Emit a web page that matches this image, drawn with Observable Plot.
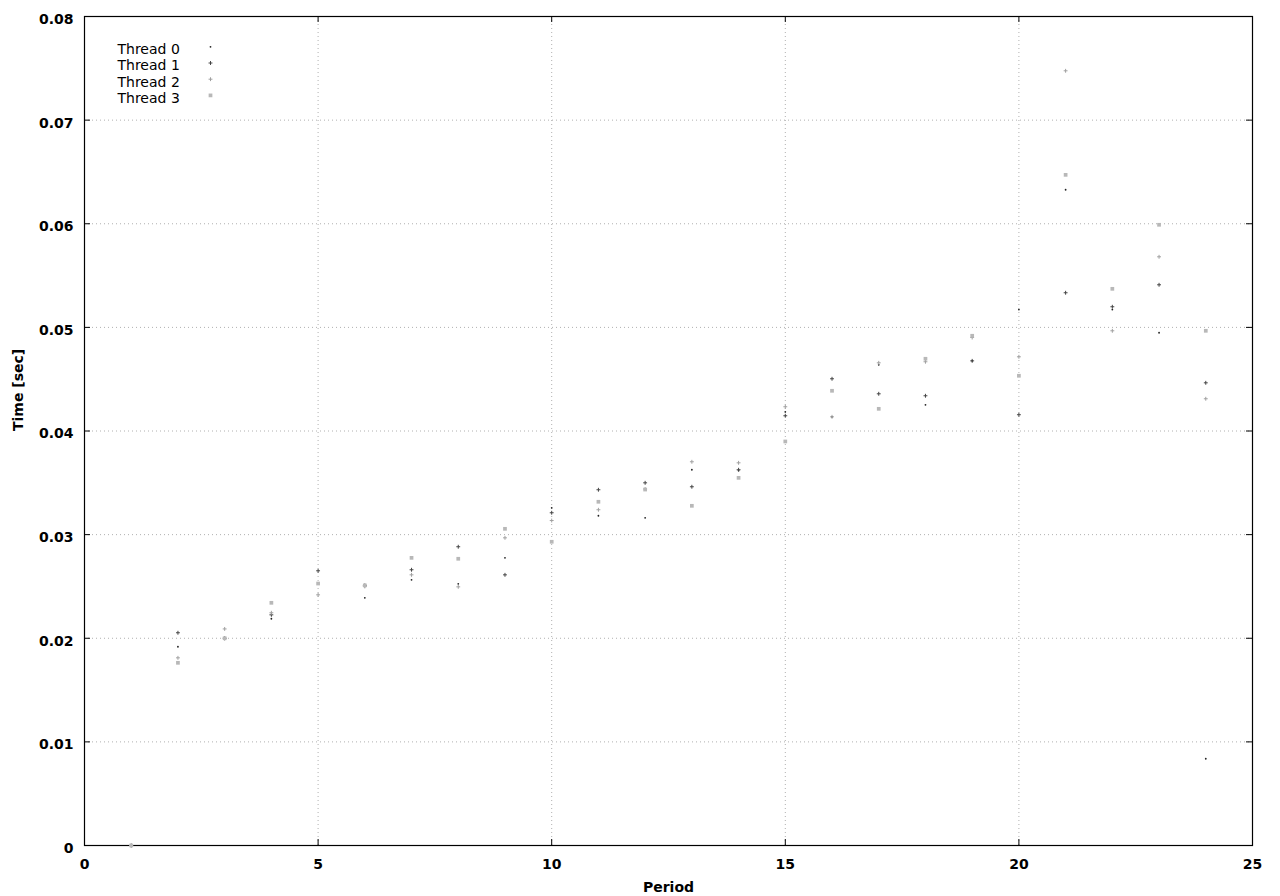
<!DOCTYPE html>
<html>
<head>
<meta charset="utf-8">
<script src="https://cdn.jsdelivr.net/npm/d3@7"></script>
<script src="https://cdn.jsdelivr.net/npm/@observablehq/plot@0.6"></script>
<style>
  html, body { margin: 0; padding: 0; background: #fff; }
  #chart { width: 1280px; height: 896px; }
</style>
</head>
<body>
<div id="chart"></div>
<script>
const periods = [1,2,3,4,5,6,7,8,9,10,11,12,13,14,15,16,17,18,19,20,21,22,23,24];
const thread0 = [0, 0.01918, 0.0199, 0.02188, 0.0253, 0.0239, 0.02564, 0.02525, 0.02776, 0.03259, 0.03182, 0.03162, 0.03626, 0.0362, 0.04185, 0.04137, 0.04639, 0.04253, 0.04677, 0.05172, 0.06328, 0.05172, 0.04948, 0.00837];
const thread1 = [0, 0.02053, 0.0200, 0.02226, 0.02651, 0.0251, 0.02661, 0.02883, 0.02612, 0.03211, 0.03433, 0.035, 0.03462, 0.03626, 0.04147, 0.04504, 0.04359, 0.0434, 0.04677, 0.04157, 0.05334, 0.05199, 0.05411, 0.04465];
const thread2 = [0, 0.01811, 0.0209, 0.02246, 0.02419, 0.025, 0.02612, 0.02496, 0.02969, 0.03136, 0.0324, 0.0344, 0.03703, 0.03693, 0.04234, 0.04137, 0.04658, 0.04668, 0.04902, 0.04716, 0.07476, 0.04967, 0.05681, 0.04311];
const thread3 = [0, 0.01763, 0.0200, 0.02342, 0.02528, 0.0251, 0.02776, 0.02767, 0.03056, 0.02931, 0.03317, 0.03435, 0.03278, 0.03548, 0.03899, 0.04388, 0.04214, 0.04697, 0.04919, 0.04533, 0.06472, 0.05372, 0.0599, 0.04967];
const threadNames = ["Thread 0", "Thread 1", "Thread 2", "Thread 3"];
const xTicks = [0, 5, 10, 15, 20, 25];
const yTicks = [0, 0.01, 0.02, 0.03, 0.04, 0.05, 0.06, 0.07, 0.08];
const yTickLabels = ["0", "0.01", "0.02", "0.03", "0.04", "0.05", "0.06", "0.07", "0.08"];

const series = [thread0, thread1, thread2, thread3];
const table = series.map((vals, i) => periods.map((p, j) => ({period: p, time: vals[j], thread: threadNames[i]})));

const styles = [
  {symbol: "circle", r: 0.9, fill: "#222", stroke: "none", strokeWidth: 0},
  {symbol: "plus", r: 1.35, fill: "none", stroke: "#444", strokeWidth: 1},
  {symbol: "plus", r: 1.35, fill: "none", stroke: "#a0a0a0", strokeWidth: 1},
  {symbol: "square", r: 2.1, fill: "#b8b8b8", stroke: "none", strokeWidth: 0}
];

const W = 1280, H = 896, mL = 84, mR = 28, mT = 16, mB = 51;
const fw = W - mL - mR, fh = H - mT - mB;

const marks = [
  Plot.gridX(xTicks.slice(1, -1), {stroke: "#b0b0b0", strokeOpacity: 1, strokeDasharray: "1,3"}),
  Plot.gridY(yTicks.slice(1, -1), {stroke: "#b0b0b0", strokeOpacity: 1, strokeDasharray: "1,3"}),
  Plot.tickY(yTicks, {y: d => d, stroke: "black", insetRight: fw - 6}),
  Plot.tickY(yTicks, {y: d => d, stroke: "black", insetLeft: fw - 6}),
  Plot.tickX(xTicks, {x: d => d, stroke: "black", insetTop: fh - 6}),
  Plot.tickX(xTicks, {x: d => d, stroke: "black", insetBottom: fh - 6}),
  Plot.axisX({ticks: xTicks, tickSize: 0, tickPadding: 14, label: null, fontWeight: "bold"}),
  Plot.axisY({ticks: yTicks, tickSize: 0, tickPadding: 11, dy: 3, label: null, fontWeight: "bold",
              tickFormat: d => yTickLabels[yTicks.indexOf(d)] ?? String(d)}),
  Plot.text(["Period"], {text: d => d, frameAnchor: "bottom", dy: 42, lineAnchor: "middle", fontWeight: "bold"}),
  Plot.text(["Time [sec]"], {text: d => d, frameAnchor: "left", dx: -66, rotate: -90, lineAnchor: "middle", fontWeight: "bold"}),
  Plot.frame({stroke: "black", strokeWidth: 1.2})
];

series.forEach((_, i) => {
  const s = styles[i];
  marks.push(Plot.dot(table[i], {x: "period", y: "time", symbol: () => s.symbol, r: s.r, fill: s.fill, stroke: s.stroke, strokeWidth: s.strokeWidth}));
});

threadNames.forEach((name, i) => {
  const s = styles[i];
  marks.push(Plot.text([name], {text: d => d, frameAnchor: "top-left", dx: 33, dy: 32.7 + 16.5 * i, textAnchor: "start", lineAnchor: "middle", fontWeight: "normal"}));
  marks.push(Plot.dot([name], {frameAnchor: "top-left", dx: 126, dy: 30.3 + 16.2 * i, symbol: () => s.symbol, r: s.r, fill: s.fill, stroke: s.stroke, strokeWidth: s.strokeWidth}));
});

const chart = Plot.plot({
  width: W, height: H,
  marginLeft: mL, marginRight: mR, marginTop: mT, marginBottom: mB,
  x: {domain: [0, 25]},
  y: {domain: [0, 0.08]},
  symbol: {type: "identity"},
  style: {fontFamily: "DejaVu Sans", fontSize: "14px", color: "black", background: "white"},
  marks
});
document.getElementById("chart").appendChild(chart);
</script>
</body>
</html>
